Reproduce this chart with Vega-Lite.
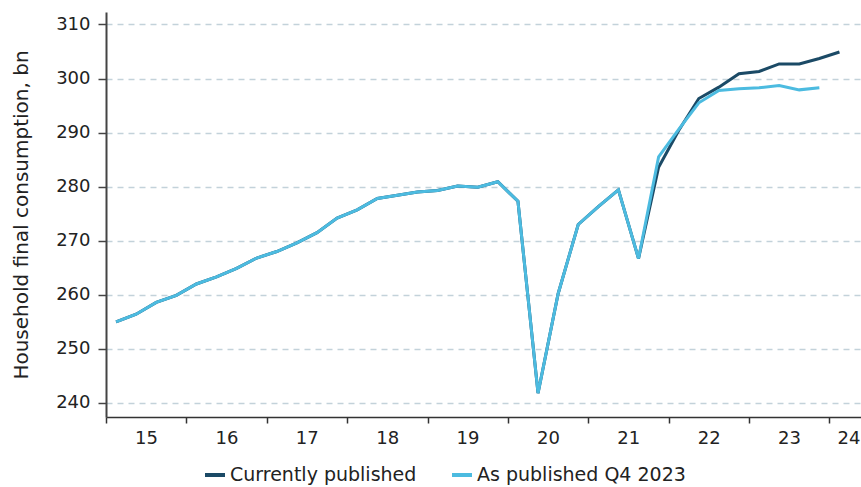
{
  "$schema": "https://vega.github.io/schema/vega-lite/v6.json",
  "width": 755,
  "height": 405,
  "autosize": {"type": "none"},
  "padding": {"left": 106, "top": 12, "right": 0, "bottom": 70},
  "background": "white",
  "config": {"view": {"stroke": null}, "font": "DejaVu Sans"},
  "data": {
    "values": [
      {"t": 2015.125, "s": "Currently published", "v": 255.0},
      {"t": 2015.375, "s": "Currently published", "v": 256.4},
      {"t": 2015.625, "s": "Currently published", "v": 258.6},
      {"t": 2015.875, "s": "Currently published", "v": 259.9},
      {"t": 2016.125, "s": "Currently published", "v": 262.0},
      {"t": 2016.375, "s": "Currently published", "v": 263.3},
      {"t": 2016.625, "s": "Currently published", "v": 264.9},
      {"t": 2016.875, "s": "Currently published", "v": 266.8},
      {"t": 2017.125, "s": "Currently published", "v": 268.0},
      {"t": 2017.375, "s": "Currently published", "v": 269.6},
      {"t": 2017.625, "s": "Currently published", "v": 271.5},
      {"t": 2017.875, "s": "Currently published", "v": 274.2},
      {"t": 2018.125, "s": "Currently published", "v": 275.7},
      {"t": 2018.375, "s": "Currently published", "v": 277.8},
      {"t": 2018.625, "s": "Currently published", "v": 278.4},
      {"t": 2018.875, "s": "Currently published", "v": 279.0},
      {"t": 2019.125, "s": "Currently published", "v": 279.3},
      {"t": 2019.375, "s": "Currently published", "v": 280.1},
      {"t": 2019.625, "s": "Currently published", "v": 279.9},
      {"t": 2019.875, "s": "Currently published", "v": 280.9},
      {"t": 2020.125, "s": "Currently published", "v": 277.3},
      {"t": 2020.375, "s": "Currently published", "v": 241.8},
      {"t": 2020.625, "s": "Currently published", "v": 260.2},
      {"t": 2020.875, "s": "Currently published", "v": 273.0},
      {"t": 2021.125, "s": "Currently published", "v": 276.3},
      {"t": 2021.375, "s": "Currently published", "v": 279.4},
      {"t": 2021.625, "s": "Currently published", "v": 266.7},
      {"t": 2021.875, "s": "Currently published", "v": 283.6},
      {"t": 2022.125, "s": "Currently published", "v": 290.4},
      {"t": 2022.375, "s": "Currently published", "v": 296.3},
      {"t": 2022.625, "s": "Currently published", "v": 298.4},
      {"t": 2022.875, "s": "Currently published", "v": 300.9},
      {"t": 2023.125, "s": "Currently published", "v": 301.3},
      {"t": 2023.375, "s": "Currently published", "v": 302.7},
      {"t": 2023.625, "s": "Currently published", "v": 302.7},
      {"t": 2023.875, "s": "Currently published", "v": 303.7},
      {"t": 2024.125, "s": "Currently published", "v": 304.9},
      {"t": 2015.125, "s": "As published Q4 2023", "v": 255.0},
      {"t": 2015.375, "s": "As published Q4 2023", "v": 256.4},
      {"t": 2015.625, "s": "As published Q4 2023", "v": 258.6},
      {"t": 2015.875, "s": "As published Q4 2023", "v": 259.9},
      {"t": 2016.125, "s": "As published Q4 2023", "v": 262.0},
      {"t": 2016.375, "s": "As published Q4 2023", "v": 263.3},
      {"t": 2016.625, "s": "As published Q4 2023", "v": 264.9},
      {"t": 2016.875, "s": "As published Q4 2023", "v": 266.8},
      {"t": 2017.125, "s": "As published Q4 2023", "v": 268.0},
      {"t": 2017.375, "s": "As published Q4 2023", "v": 269.6},
      {"t": 2017.625, "s": "As published Q4 2023", "v": 271.5},
      {"t": 2017.875, "s": "As published Q4 2023", "v": 274.2},
      {"t": 2018.125, "s": "As published Q4 2023", "v": 275.7},
      {"t": 2018.375, "s": "As published Q4 2023", "v": 277.8},
      {"t": 2018.625, "s": "As published Q4 2023", "v": 278.4},
      {"t": 2018.875, "s": "As published Q4 2023", "v": 279.0},
      {"t": 2019.125, "s": "As published Q4 2023", "v": 279.3},
      {"t": 2019.375, "s": "As published Q4 2023", "v": 280.1},
      {"t": 2019.625, "s": "As published Q4 2023", "v": 279.9},
      {"t": 2019.875, "s": "As published Q4 2023", "v": 280.9},
      {"t": 2020.125, "s": "As published Q4 2023", "v": 277.3},
      {"t": 2020.375, "s": "As published Q4 2023", "v": 241.8},
      {"t": 2020.625, "s": "As published Q4 2023", "v": 260.2},
      {"t": 2020.875, "s": "As published Q4 2023", "v": 273.0},
      {"t": 2021.125, "s": "As published Q4 2023", "v": 276.3},
      {"t": 2021.375, "s": "As published Q4 2023", "v": 279.4},
      {"t": 2021.625, "s": "As published Q4 2023", "v": 266.7},
      {"t": 2021.875, "s": "As published Q4 2023", "v": 285.5},
      {"t": 2022.125, "s": "As published Q4 2023", "v": 290.6},
      {"t": 2022.375, "s": "As published Q4 2023", "v": 295.5},
      {"t": 2022.625, "s": "As published Q4 2023", "v": 297.8},
      {"t": 2022.875, "s": "As published Q4 2023", "v": 298.1},
      {"t": 2023.125, "s": "As published Q4 2023", "v": 298.3},
      {"t": 2023.375, "s": "As published Q4 2023", "v": 298.7},
      {"t": 2023.625, "s": "As published Q4 2023", "v": 297.9},
      {"t": 2023.875, "s": "As published Q4 2023", "v": 298.3}
    ]
  },
  "encoding": {
    "x": {
      "field": "t",
      "type": "quantitative",
      "scale": {"domain": [2015, 2024.393], "nice": false, "zero": false},
      "axis": {
        "title": null,
        "values": [2015, 2016, 2017, 2018, 2019, 2020, 2021, 2022, 2023, 2024],
        "grid": false,
        "domainColor": "#333333",
        "domainWidth": 1.5,
        "tickColor": "#333333",
        "tickWidth": 1.5,
        "tickSize": 6,
        "labelFontSize": 18,
        "labelColor": "#222222",
        "labelPadding": 6,
        "labelFlush": false,
        "labelOverlap": false,
        "labelBound": false,
        "labelOffset": {"condition": {"test": "datum.value == 2024", "value": 19}, "value": 40},
        "labelExpr": "format(datum.value - 2000, 'd')"
      }
    },
    "y": {
      "field": "v",
      "type": "quantitative",
      "scale": {"domain": [237.4, 312.3], "nice": false, "zero": false},
      "axis": {
        "title": "Household final consumption, bn",
        "values": [240, 250, 260, 270, 280, 290, 300, 310],
        "grid": true,
        "gridDash": [6, 5],
        "gridColor": "#c3d2da",
        "gridWidth": 1.5,
        "domainColor": "#444444",
        "domainWidth": 2,
        "tickColor": "#444444",
        "tickSize": 8,
        "tickWidth": 1.5,
        "labelFontSize": 18,
        "labelColor": "#222222",
        "labelPadding": 8,
        "titleFontSize": 20,
        "titleFontWeight": "normal",
        "titleColor": "#222222",
        "titlePadding": 24
      }
    },
    "color": {
      "field": "s",
      "type": "nominal",
      "scale": {"domain": ["Currently published", "As published Q4 2023"], "range": ["#1b4a66", "#4cbbe0"]},
      "legend": {
        "title": null,
        "orient": "none",
        "legendX": 97,
        "legendY": 451,
        "direction": "horizontal",
        "symbolType": "stroke",
        "symbolSize": 400,
        "symbolStrokeWidth": 4,
        "labelFontSize": 19,
        "labelColor": "#222222",
        "labelOffset": 3,
        "labelLimit": 400,
        "columnPadding": 27
      }
    }
  },
  "layer": [
    {
      "transform": [{"filter": "datum.s == 'Currently published'"}],
      "mark": {"type": "line", "strokeWidth": 3}
    },
    {
      "transform": [{"filter": "datum.s == 'As published Q4 2023'"}],
      "mark": {"type": "line", "strokeWidth": 3}
    }
  ]
}
